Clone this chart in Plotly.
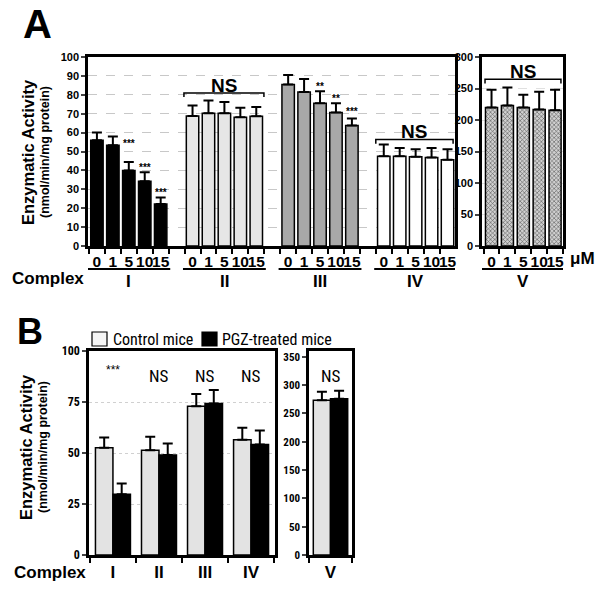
import plotly.graph_objects as go

# ---------------- data ----------------
conc_labels = ["0", "1", "5", "10", "15"]
complexes_a = ["I", "II", "III", "IV"]
a_means = {
    "I": [56.0, 53.3, 40.0, 34.3, 22.2],
    "II": [68.8, 70.2, 70.2, 68.1, 68.7],
    "III": [85.4, 81.5, 75.5, 70.6, 63.7],
    "IV": [47.5, 47.5, 47.2, 46.8, 45.6],
}
a_errs = {
    "I": [4.0, 4.7, 4.5, 4.7, 3.5],
    "II": [5.5, 6.8, 6.0, 5.1, 4.9],
    "III": [5.1, 6.9, 6.4, 4.9, 3.7],
    "IV": [6.2, 4.4, 4.0, 5.1, 5.6],
}
a_v_means = [219.7, 223.0, 220.0, 216.6, 215.5]
a_v_errs = [28.3, 28.5, 20.0, 28.4, 32.5]
a_stars = [("I", 2, "***", 54.0), ("I", 3, "***", 41.5), ("I", 4, "***", 28.3),
           ("III", 2, "**", 84.5), ("III", 3, "**", 78.0), ("III", 4, "***", 71.3)]

complexes_b = ["I", "II", "III", "IV"]
b_ctrl = [52.6, 51.3, 72.9, 56.5]
b_ctrl_err = [5.0, 6.7, 6.0, 5.9]
b_pgz = [29.8, 49.0, 74.3, 54.2]
b_pgz_err = [5.3, 5.6, 6.6, 6.8]
b_sig = ["***", "NS", "NS", "NS"]
b_v_ctrl, b_v_ctrl_err = 273.0, 15.0
b_v_pgz, b_v_pgz_err = 275.6, 14.2

a_colors = {"I": "#000000", "II": "#e6e6e6", "III": "#a8a8a8", "IV": "#ffffff"}

FONT = "Liberation Sans, Arial, sans-serif"
NARROW = "Liberation Sans Narrow, Arial Narrow, Roboto Condensed, Liberation Sans, sans-serif"

fig = go.Figure()

def err(arr):
    return dict(type="data", array=arr, arrayminus=[0] * len(arr), symmetric=False,
                color="black", thickness=2, width=5)

# ---------------- Panel A main ----------------
tickvals_a, ticktext_a, minor_a = [], [], []
for g, c in enumerate(complexes_a):
    xs = [6 * g + j for j in range(5)]
    tickvals_a += xs
    ticktext_a += conc_labels
    minor_a += [6 * g + j - 0.5 for j in range(6)]
    fig.add_trace(go.Bar(x=xs, y=a_means[c], width=0.78, marker=dict(color=a_colors[c], line=dict(color="black", width=1.5)),
                         error_y=err(a_errs[c]), xaxis="x", yaxis="y", showlegend=False))

# ---------------- Panel A complex V ----------------
fig.add_trace(go.Bar(x=list(range(5)), y=a_v_means, width=0.76,
                     marker=dict(color="#c4c4c4", line=dict(color="black", width=1.5),
                                 pattern=dict(shape="x", size=3, solidity=0.35, fgcolor="#555555", bgcolor="#d0d0d0")),
                     error_y=err(a_v_errs), xaxis="x2", yaxis="y2", showlegend=False))

# ---------------- Panel B main ----------------
gx = list(range(len(complexes_b)))
fig.add_trace(go.Bar(x=[g - 0.19 for g in gx], y=b_ctrl, width=0.38, name="Control mice",
                     marker=dict(color="#e3e3e3", line=dict(color="black", width=1.5)),
                     error_y=err(b_ctrl_err), xaxis="x3", yaxis="y3", showlegend=False))
fig.add_trace(go.Bar(x=[g + 0.19 for g in gx], y=b_pgz, width=0.38, name="PGZ-treated mice",
                     marker=dict(color="#000000", line=dict(color="black", width=1.5)),
                     error_y=err(b_pgz_err), xaxis="x3", yaxis="y3", showlegend=False))

# ---------------- Panel B complex V ----------------
fig.add_trace(go.Bar(x=[-0.2], y=[b_v_ctrl], width=0.4, marker=dict(color="#e3e3e3", line=dict(color="black", width=1.5)),
                     error_y=err([b_v_ctrl_err]), xaxis="x4", yaxis="y4", showlegend=False))
fig.add_trace(go.Bar(x=[0.2], y=[b_v_pgz], width=0.4, marker=dict(color="#000000", line=dict(color="black", width=1.5)),
                     error_y=err([b_v_pgz_err]), xaxis="x4", yaxis="y4", showlegend=False))

W, H = 600, 591
def px(x):
    return x / W
def py(y):
    return 1 - y / H

axis_common = dict(showline=True, linecolor="black", linewidth=2.5, mirror=True, zeroline=False, automargin=False)

fig.update_layout(
    template="none",
    width=W, height=H, margin=dict(l=0, r=0, t=0, b=0, pad=0, autoexpand=False),
    paper_bgcolor="white", plot_bgcolor="white", barmode="overlay",
    font=dict(family=FONT, color="black"),
    xaxis=dict(domain=[px(88), px(455)], range=[-0.56, 22.47], tickmode="array", tickvals=tickvals_a,
               ticktext=ticktext_a, ticks="", tickangle=0, showgrid=False,
               tickfont=dict(size=15.5, family=FONT, weight="bold"),
               minor=dict(tickmode="array", tickvals=minor_a, ticks="outside", ticklen=5, tickwidth=1.5, tickcolor="black", showgrid=False),
               anchor="y", **axis_common),
    yaxis=dict(domain=[py(246), py(57)], range=[0, 100], tickmode="array", tickvals=list(range(0, 101, 10)),
               ticks="outside", ticklen=4, tickwidth=1.5, showgrid=True, gridcolor="#c8c8c8", griddash="dash", gridwidth=1,
               tickfont=dict(size=11, family=FONT, weight="bold"), anchor="x", **axis_common),
    xaxis2=dict(domain=[px(482), px(563)], range=[-0.6, 4.5], tickmode="array", tickvals=list(range(5)),
                ticktext=conc_labels, ticks="", tickangle=0, showgrid=False,
                tickfont=dict(size=15.5, family=FONT, weight="bold"),
                minor=dict(tickmode="array", tickvals=[j - 0.5 for j in range(6)], ticks="outside", ticklen=5, tickwidth=1.5, tickcolor="black", showgrid=False),
                anchor="y2", **axis_common),
    yaxis2=dict(domain=[py(246), py(57)], range=[0, 300], tickmode="array", tickvals=list(range(0, 301, 50)),
                ticks="outside", ticklen=4, tickwidth=1.5, showgrid=True, gridcolor="#e0e0e0", griddash="dash", gridwidth=1,
                tickfont=dict(size=11, family=FONT, weight="bold"), anchor="x2", **axis_common),
    xaxis3=dict(domain=[px(89), px(275)], range=[-0.52, 3.52], tickmode="array", tickvals=gx,
                ticktext=complexes_b, ticks="", tickangle=0, showgrid=False,
                tickfont=dict(size=17, family=FONT, weight="bold"),
                minor=dict(tickmode="array", tickvals=[g - 0.5 for g in range(5)], ticks="outside", ticklen=5, tickwidth=1.5, tickcolor="black", showgrid=False),
                anchor="y3", **axis_common),
    yaxis3=dict(domain=[py(555), py(351)], range=[0, 100], tickmode="array", tickvals=[0, 25, 50, 75, 100],
                ticks="outside", ticklen=4, tickwidth=1.5, showgrid=True, gridcolor="#d0d0d0", griddash="dot", gridwidth=1,
                tickfont=dict(size=12, family=NARROW, weight="bold"), anchor="x3", **axis_common),
    xaxis4=dict(domain=[px(309), px(352)], range=[-0.5, 0.5], tickmode="array", tickvals=[0],
                ticktext=["V"], ticks="", tickangle=0, showgrid=False,
                tickfont=dict(size=17, family=FONT, weight="bold"),
                minor=dict(tickmode="array", tickvals=[-0.5, 0.5], ticks="outside", ticklen=5, tickwidth=1.5, tickcolor="black", showgrid=False),
                anchor="y4", **axis_common),
    yaxis4=dict(domain=[py(555), py(351)], range=[0, 360], tickmode="array", tickvals=list(range(0, 351, 50)),
                ticks="outside", ticklen=4, tickwidth=1.5, showgrid=False,
                tickfont=dict(size=11, family=NARROW, weight="bold"), anchor="x4", **axis_common),
)

shapes, ann = [], []

def note(x, y, text, size, family=FONT, bold=True, xref="paper", yref="paper", angle=0, xanchor="center"):
    ann.append(dict(xref=xref, yref=yref,
                    x=px(x) if xref == "paper" else x,
                    y=py(y) if yref == "paper" else y,
                    text=text, showarrow=False, textangle=angle,
                    xanchor=xanchor, yanchor="middle",
                    font=dict(size=size, family=family, weight="bold" if bold else "normal", color="black")))

# underlines and complex labels, panel A
for g, c in enumerate(complexes_a):
    shapes.append(dict(type="line", xref="x", yref="paper", x0=6 * g - 0.6, x1=6 * g + 4.6, y0=py(269), y1=py(269),
                       line=dict(color="black", width=2)))
    ann.append(dict(xref="x", yref="paper", x=6 * g + 2, y=py(281), text=c, showarrow=False,
                    xanchor="center", yanchor="middle", font=dict(size=17, family=FONT, weight="bold")))
shapes.append(dict(type="line", xref="x2", yref="paper", x0=-0.6, x1=4.5, y0=py(269), y1=py(269),
                   line=dict(color="black", width=2)))
ann.append(dict(xref="x2", yref="paper", x=2, y=py(281), text="V", showarrow=False,
                xanchor="center", yanchor="middle", font=dict(size=17, family=FONT, weight="bold")))
note(48, 278, "Complex", 17)
note(582, 259, "\u03bcM", 17)

# NS brackets panel A
def bracket(xref, yref, x0, x1, y, drop, ytext, text="NS"):
    shapes.append(dict(type="path", xref=xref, yref=yref,
                       path=f"M {x0} {y - drop} L {x0} {y} L {x1} {y} L {x1} {y - drop}",
                       line=dict(color="black", width=1.5)))
    ann.append(dict(xref=xref, yref=yref, x=(x0 + x1) / 2, y=ytext, text=text, showarrow=False,
                    xanchor="center", yanchor="middle", font=dict(size=19, family=FONT, weight="bold")))

bracket("x", "y", 5.46, 10.48, 81.0, 2.2, 85.0)
bracket("x", "y", 17.5, 22.35, 56.3, 2.2, 60.7)
bracket("x2", "y2", -0.41, 4.37, 264.6, 6.5, 277.0)

for c, j, s, yv in a_stars:
    g = complexes_a.index(c)
    note(6 * g + j, yv, s, 10, xref="x", yref="y")

# Panel B annotations
for g, s in enumerate(b_sig):
    if s == "***":
        note(g, 90.7, s, 12, bold=False, xref="x3", yref="y3")
    else:
        note(g, 87.7, s, 17, family=NARROW, bold=False, xref="x3", yref="y3")
note(0, 316, "NS", 17, family=NARROW, bold=False, xref="x4", yref="y4")
note(50, 572, "Complex", 17)

# legend B (manual)
shapes.append(dict(type="rect", xref="paper", yref="paper", x0=px(92), x1=px(107), y0=py(346), y1=py(332),
                   line=dict(color="black", width=1.2), fillcolor="#f5f5f5"))
shapes.append(dict(type="rect", xref="paper", yref="paper", x0=px(202), x1=px(217), y0=py(346), y1=py(332),
                   line=dict(color="black", width=1.2), fillcolor="black"))
note(111, 339, "Control mice", 16, family=NARROW, bold=False, xanchor="left")
note(220, 339, "PGZ-treated mice", 16, family=NARROW, bold=False, xanchor="left")

# y-axis titles
note(28, 152, "Enzymatic Activity", 16.5, angle=-90)
note(45, 152, "(nmol/min/mg protein)", 12.5, angle=-90)
note(26, 447, "Enzymatic Activity", 16.5, angle=-90)
note(43, 447, "(nmol/min/mg protein)", 12.5, angle=-90)

# panel letters
note(37, 24, "A", 40)
note(30, 332, "B", 36)

fig.update_layout(shapes=shapes, annotations=ann)
fig.write_html("out.html", config={"displayModeBar": False},
               post_script="document.body.style.margin='0px';document.body.style.padding='0px';")
